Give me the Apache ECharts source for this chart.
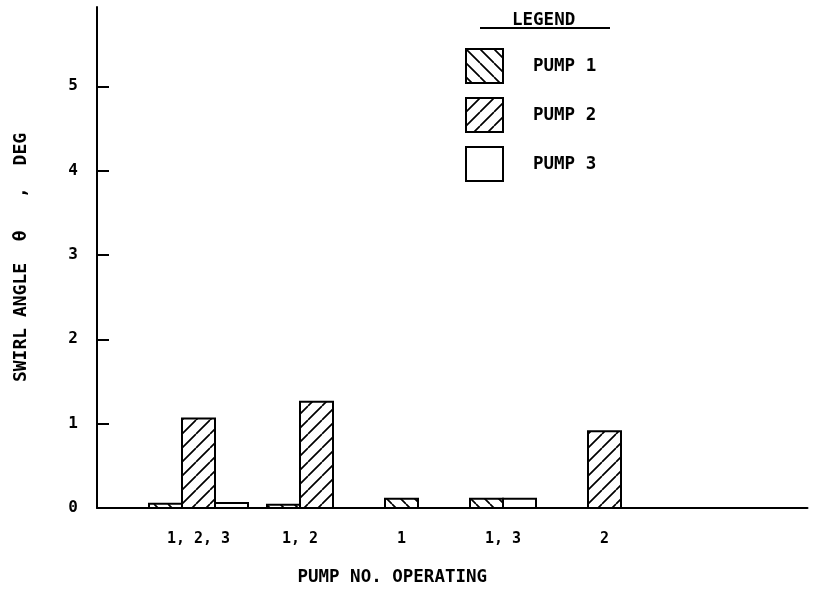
<!DOCTYPE html>
<html>
<head>
<meta charset="utf-8">
<script src="https://cdn.jsdelivr.net/npm/echarts@6/dist/echarts.min.js"></script>
<style>html,body{margin:0;padding:0;background:#fff}#c{width:821px;height:595px}</style>
</head>
<body>
<div id="c"></div>
<script>
// Data
const categories = ['1, 2, 3', '1, 2', '1', '1, 3', '2'];
const pump1 = [0.05, 0.04, 0.11, 0.11, null];
const pump2 = [1.06, 1.26, null, null, 0.91];
const pump3 = [0.06, null, null, 0.11, null];
const yTicks = [0, 1, 2, 3, 4, 5];
const seriesNames = ['PUMP 1', 'PUMP 2', 'PUMP 3'];

const FONT = '"DejaVu Sans Mono", monospace';
const allPumps = [pump1, pump2, pump3];
const axisCats = [''].concat(categories, ['', '']);

function hatch(dir) {
  const s = 14;
  const c = document.createElement('canvas');
  c.width = s; c.height = s;
  const g = c.getContext('2d');
  g.fillStyle = '#fff'; g.fillRect(0, 0, s, s);
  if (dir) {
    g.strokeStyle = '#000'; g.lineWidth = 1.7;
    g.beginPath();
    for (let k = -1; k <= 1; k++) {
      if (dir > 0) { g.moveTo(k * s, s); g.lineTo(k * s + s, 0); }
      else { g.moveTo(k * s, 0); g.lineTo(k * s + s, s); }
    }
    g.stroke();
  }
  return { image: c, repeat: 'repeat' };
}
const fills = [hatch(-1), hatch(1), '#ffffff'];

function makeRender(p) {
  return function (params, api) {
    const ci = api.value(0);
    const v = api.value(1);
    const catIdx = ci - 1;
    const present = [];
    allPumps.forEach((arr, j) => { if (arr[catIdx] != null) present.push(j); });
    const k = present.indexOf(p), n = present.length;
    const bw = 33;
    const base = api.coord([ci, 0]);
    const top = api.coord([ci, v]);
    return {
      type: 'rect',
      shape: { x: base[0] + (k - n / 2) * bw, y: top[1], width: bw, height: base[1] - top[1] },
      style: { fill: fills[p], stroke: '#000', lineWidth: 2 }
    };
  };
}

const series = allPumps.map((arr, p) => ({
  name: seriesNames[p],
  type: 'custom',
  renderItem: makeRender(p),
  itemStyle: { color: fills[p], borderColor: '#000', borderWidth: 2 },
  data: arr.map((v, i) => v == null ? null : [i + 1, v]).filter(d => d),
  encode: { x: 0, y: 1 }
}));

const chart = echarts.init(document.getElementById('c'), null, { renderer: 'canvas' });
chart.setOption({
  animation: false,
  backgroundColor: '#fff',
  textStyle: { fontFamily: FONT },
  grid: { left: 97, right: 13.5, top: 7, bottom: 87, containLabel: false },
  title: {
    text: 'LEGEND', left: 507, top: 6,
    textStyle: { fontFamily: FONT, fontSize: 17.5, fontWeight: 'bold', color: '#000' }
  },
  graphic: [{
    type: 'line', shape: { x1: 480, y1: 28, x2: 610, y2: 28 },
    style: { stroke: '#000', lineWidth: 2 }
  }],
  legend: {
    orient: 'vertical', left: 460, top: 43,
    itemWidth: 37, itemHeight: 34, itemGap: 13,
    icon: 'rect',
    data: seriesNames,
    textStyle: { fontFamily: FONT, fontSize: 17.5, fontWeight: 'bold', color: '#000', padding: [0, 0, 0, 25] }
  },
  xAxis: {
    type: 'category', data: axisCats, boundaryGap: false,
    axisLine: { lineStyle: { color: '#000', width: 2 } },
    axisTick: { show: false },
    splitLine: { show: false },
    axisLabel: { color: '#000', fontSize: 15, fontWeight: 'bold', fontFamily: FONT, margin: 24, interval: 0 },
    name: 'PUMP NO. OPERATING', nameLocation: 'middle', nameGap: 60,
    nameTextStyle: { color: '#000', fontSize: 17.5, fontWeight: 'bold', fontFamily: FONT, padding: [0, 120, 0, 0] }
  },
  yAxis: {
    type: 'value', min: 0, max: 5.94, interval: 1,
    axisLine: { show: true, lineStyle: { color: '#000', width: 2 } },
    axisTick: { show: true, inside: true, length: 12, lineStyle: { color: '#000', width: 2 }, customValues: yTicks },
    splitLine: { show: false },
    axisLabel: { color: '#000', fontSize: 16, fontWeight: 'bold', fontFamily: FONT, margin: 19, customValues: yTicks },
    name: 'SWIRL ANGLE  θ   ,  DEG', nameLocation: 'middle', nameGap: 67, nameRotate: 90,
    nameTextStyle: { color: '#000', fontSize: 18, fontWeight: 'bold', fontFamily: FONT }
  },
  series: series
});
</script>
</body>
</html>
